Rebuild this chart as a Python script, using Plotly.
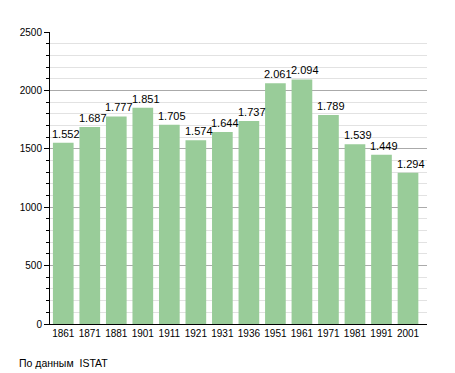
import plotly.graph_objects as go

years = ["1861", "1871", "1881", "1901", "1911", "1921", "1931", "1936", "1951", "1961", "1971", "1981", "1991", "2001"]
population = [1552, 1687, 1777, 1851, 1705, 1574, 1644, 1737, 2061, 2094, 1789, 1539, 1449, 1294]
labels = ["1.552", "1.687", "1.777", "1.851", "1.705", "1.574", "1.644", "1.737", "2.061", "2.094", "1.789", "1.539", "1.449", "1.294"]

FONT = "Liberation Sans, Arial, sans-serif"

fig = go.Figure(go.Bar(
    x=years, y=population,
    marker=dict(color="#99cc99", line=dict(width=0)),
))

# category positions on the category axis are the indices of the categories
annotations = [
    dict(x=i, y=y, text=t, xref="x", yref="y", showarrow=False,
         xanchor="center", yanchor="bottom", xshift=3, yshift=1,
         font=dict(family=FONT, size=11, color="black"))
    for i, (y, t) in enumerate(zip(population, labels))
]
annotations.append(dict(text="По данным  ISTAT", xref="paper", yref="paper",
                        x=0, y=0, xanchor="left", yanchor="middle", showarrow=False,
                        xshift=-33, yshift=-39, font=dict(family=FONT, size=10.5, color="black")))

# page body has an 8px margin, so the figure is sized to fit the window
fig.update_layout(
    width=447, height=365,
    margin=dict(l=42, r=28, t=24, b=49),
    paper_bgcolor="white", plot_bgcolor="white",
    bargap=0.22,
    showlegend=False,
    font=dict(family=FONT, size=10, color="black"),
    xaxis=dict(type="category", categoryorder="array", categoryarray=years,
               showline=True, linecolor="black", linewidth=1, tickangle=0,
               ticks="", showgrid=False, tickfont=dict(size=10)),
    yaxis=dict(range=[0, 2500], dtick=500, showline=True, linecolor="black", linewidth=1,
               ticks="outside", ticklen=5, tickcolor="black",
               showgrid=True, gridcolor="#aaaaaa", gridwidth=1,
               minor=dict(dtick=100, showgrid=True, gridcolor="#e2e2e2", ticks="outside",
                          ticklen=3, tickcolor="black"),
               zeroline=False, tickfont=dict(size=10)),
    annotations=annotations,
)

fig.write_html("out.html")
